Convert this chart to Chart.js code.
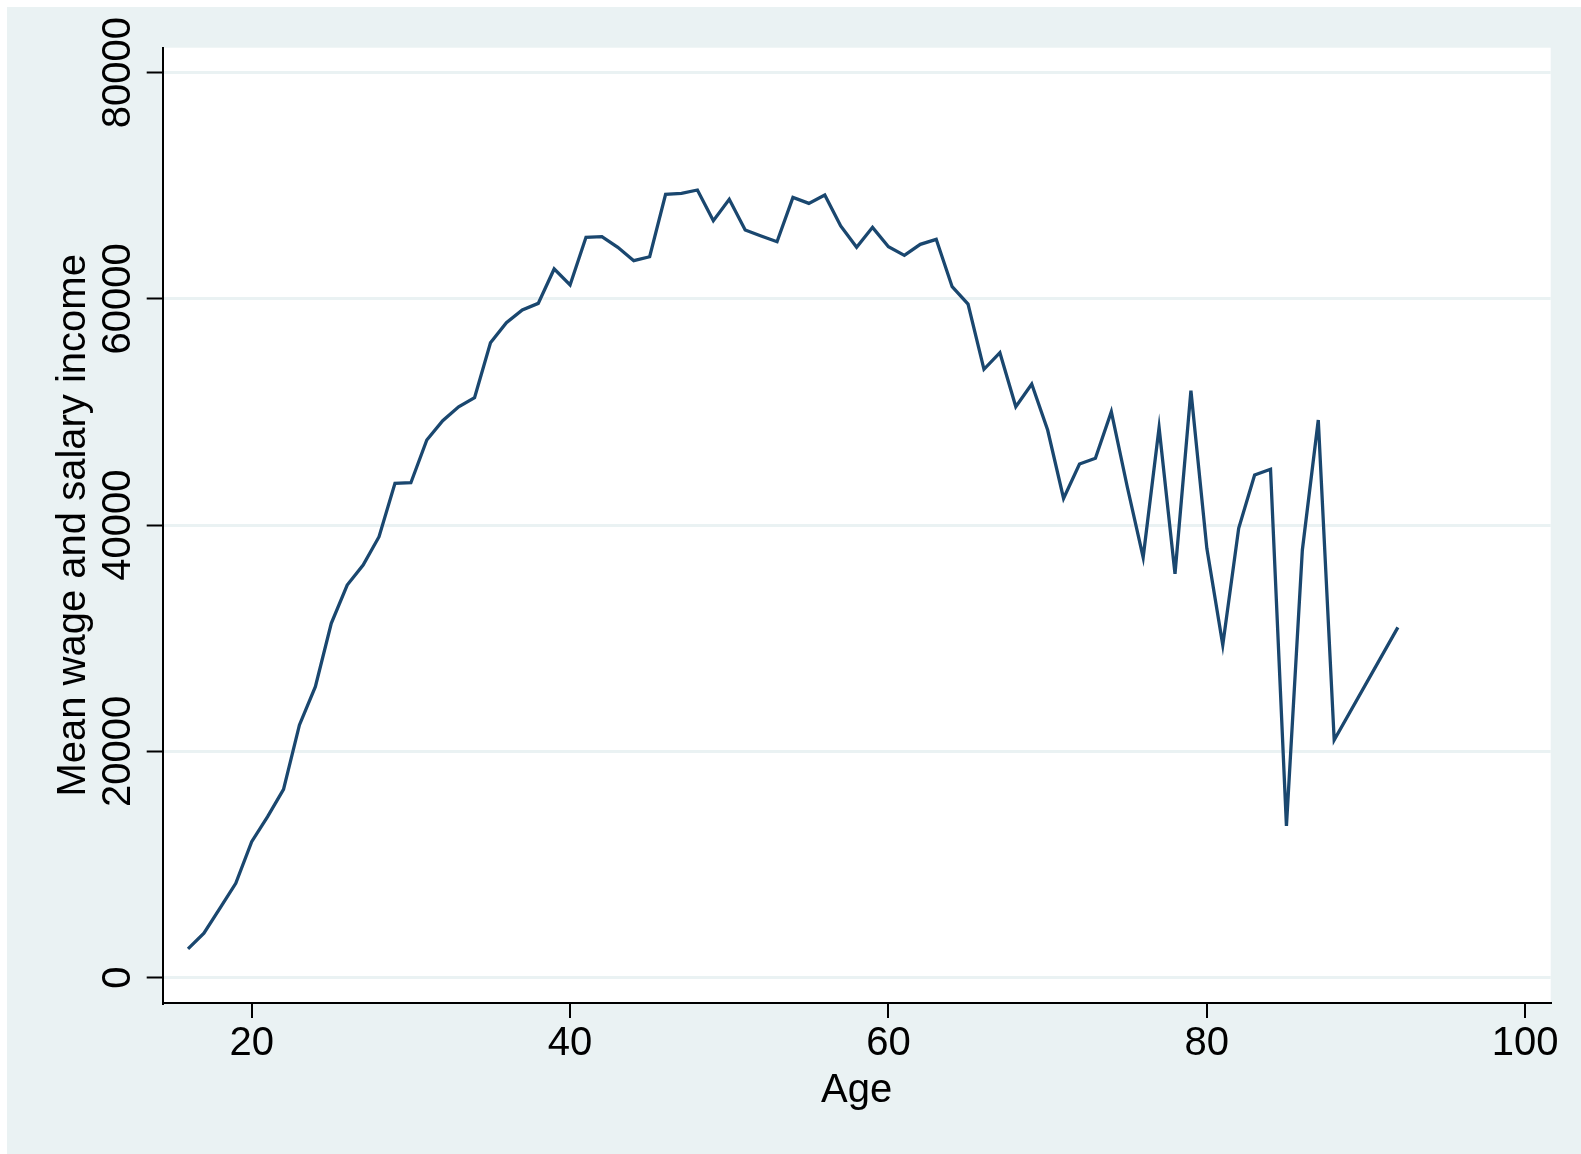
<!DOCTYPE html>
<html>
<head>
<meta charset="utf-8">
<script src="https://cdn.jsdelivr.net/npm/chart.js@4/dist/chart.umd.min.js"></script>
<style>
  html, body { margin: 0; padding: 0; background: #ffffff; }
  canvas { display: block; }
</style>
</head>
<body>
<canvas id="c" width="1581" height="1154" style="width:1581px;height:1154px"></canvas>
<script>
// ---- Data ----
const ages = [16,17,18,19,20,21,22,23,24,25,26,27,28,29,30,31,32,33,34,35,36,37,38,39,40,
              41,42,43,44,45,46,47,48,49,50,51,52,53,54,55,56,57,58,59,60,61,62,63,64,65,
              66,67,68,69,70,71,72,73,74,75,76,77,78,79,80,81,82,83,84,85,86,87,88,92];
const meanIncome = [2540,3930,6130,8340,12020,14230,16650,22340,25720,31330,34710,36480,38980,43700,43750,
                    47530,49240,50470,51270,56130,57900,59020,59610,62650,61230,
                    65450,65500,64560,63380,63730,69250,69340,69630,66920,68810,66090,65560,65060,68980,68450,
                    69190,66450,64560,66330,64620,63850,64830,65270,61080,59550,
                    53780,55250,50470,52480,48410,42370,45410,45910,50030,43400,37160,48620,35690,51890,37950,
                    29410,39720,44430,44940,13410,37810,49300,21010,30970];
const xTicks = [20, 40, 60, 80, 100];
const yTicks = [0, 20000, 40000, 60000, 80000];
const xTitle = 'Age';
const yTitle = 'Mean wage and salary income';

const BG = '#EAF2F3';
const LINE = '#1A476F';
const FONT = '"Liberation Sans", Arial, Helvetica, sans-serif';
const FS = 40;

const points = ages.map((a, i) => ({x: a, y: meanIncome[i]}));

const decor = {
  id: 'decor',
  beforeDraw(chart) {
    const ctx = chart.ctx;
    const a = chart.chartArea;
    ctx.save();
    ctx.fillStyle = '#ffffff';
    ctx.fillRect(0, 0, chart.width, chart.height);
    ctx.fillStyle = BG;
    ctx.fillRect(7, 7, chart.width - 7, chart.height - 7);
    ctx.fillStyle = '#ffffff';
    ctx.fillRect(a.left, a.top, a.right - a.left, a.bottom - a.top);
    ctx.restore();
  },
  afterDraw(chart) {
    const ctx = chart.ctx;
    const ys = chart.scales.y;
    const a = chart.chartArea;
    ctx.save();
    ctx.fillStyle = '#000000';
    ctx.font = FS + 'px ' + FONT;
    ctx.textAlign = 'center';
    ctx.textBaseline = 'alphabetic';
    // rotated y tick labels
    yTicks.forEach(v => {
      const py = ys.getPixelForValue(v);
      ctx.save();
      ctx.translate(130, py);
      ctx.rotate(-Math.PI / 2);
      ctx.fillText(String(v), 0, 0);
      ctx.restore();
    });
    // y axis title
    ctx.save();
    ctx.translate(85, (a.top + a.bottom) / 2);
    ctx.rotate(-Math.PI / 2);
    ctx.fillText(yTitle, 0, 0);
    ctx.restore();
    // x axis title
    ctx.fillText(xTitle, (a.left + a.right) / 2, 1101.5);
    ctx.restore();
  }
};

new Chart(document.getElementById('c'), {
  type: 'line',
  data: {
    datasets: [{
      data: points,
      borderColor: LINE,
      borderWidth: 3.3,
      pointRadius: 0,
      pointHoverRadius: 0,
      tension: 0,
      fill: false,
      borderJoinStyle: 'miter'
    }]
  },
  options: {
    responsive: false,
    animation: false,
    devicePixelRatio: 1,
    events: [],
    layout: { padding: { top: 47.7, right: 30.3, left: 0, bottom: 0 } },
    plugins: { legend: { display: false }, tooltip: { enabled: false }, title: { display: false } },
    scales: {
      x: {
        type: 'linear',
        min: 14.41,
        max: 101.6,
        afterBuildTicks: s => { s.ticks = xTicks.map(v => ({value: v})); },
        afterFit: s => { s.height = 151; },
        grid: { display: true, drawOnChartArea: false, drawTicks: true, tickLength: 15, color: '#000000', lineWidth: 2 },
        border: { display: true, color: '#000000', width: 2 },
        ticks: { color: '#000000', font: { family: FONT, size: FS }, padding: 2, maxRotation: 0, autoSkip: false }
      },
      y: {
        type: 'linear',
        min: -2240,
        max: 82210,
        afterBuildTicks: s => { s.ticks = yTicks.map(v => ({value: v})); },
        afterFit: s => { s.width = 162.7; },
        grid: { display: true, drawOnChartArea: true, drawTicks: true, tickLength: 16, color: BG, lineWidth: 3, tickColor: '#000000', tickWidth: 2 },
        border: { display: true, color: '#000000', width: 2 },
        ticks: { display: false }
      }
    }
  },
  plugins: [decor]
});
</script>
</body>
</html>
